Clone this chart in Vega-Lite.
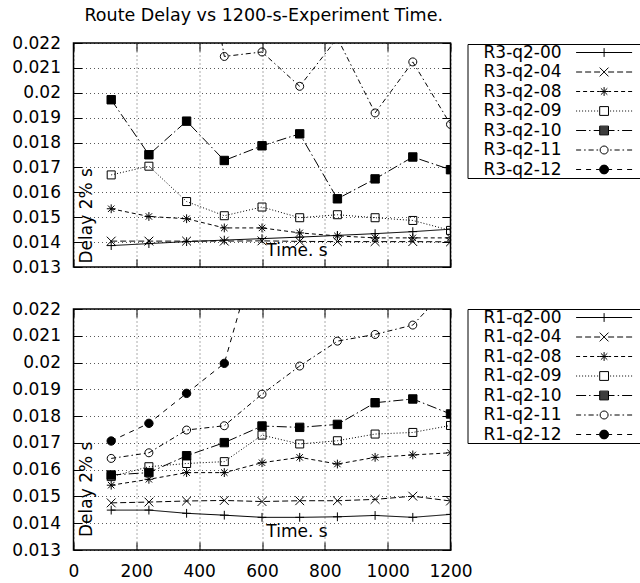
{
  "$schema": "https://vega.github.io/schema/vega-lite/v6.json",
  "background": "white",
  "padding": {"left": 10.5, "top": 5, "right": 0, "bottom": 5},
  "config": {
    "font": "DejaVu Sans",
    "view": {"stroke": "black", "strokeWidth": 1.5},
    "axis": {
      "domain": false,
      "tickSize": -8,
      "tickColor": "black",
      "tickWidth": 1,
      "labelFont": "DejaVu Sans",
      "labelFontSize": 17,
      "labelColor": "black",
      "labelPadding": 21,
      "labelFlush": false,
      "labelOverlap": false,
      "titleFont": "DejaVu Sans",
      "titleFontSize": 17,
      "titleFontWeight": "normal",
      "titleColor": "black",
      "gridColor": "#000000",
      "gridOpacity": 0.65,
      "gridDash": [1, 3],
      "gridWidth": 1
    },
    "legend": {
      "labelFont": "DejaVu Sans",
      "labelFontSize": 17,
      "labelColor": "black",
      "labelLimit": 250
    }
  },
  "datasets": {
    "top": [
      {"series": "R3-q2-00", "t": 120, "delay": 0.01386},
      {"series": "R3-q2-00", "t": 240, "delay": 0.01394},
      {"series": "R3-q2-00", "t": 360, "delay": 0.01402},
      {"series": "R3-q2-00", "t": 480, "delay": 0.01408},
      {"series": "R3-q2-00", "t": 600, "delay": 0.01414},
      {"series": "R3-q2-00", "t": 720, "delay": 0.0142},
      {"series": "R3-q2-00", "t": 840, "delay": 0.01427},
      {"series": "R3-q2-00", "t": 960, "delay": 0.01434},
      {"series": "R3-q2-00", "t": 1080, "delay": 0.01442},
      {"series": "R3-q2-00", "t": 1200, "delay": 0.01452},
      {"series": "R3-q2-04", "t": 120, "delay": 0.01404},
      {"series": "R3-q2-04", "t": 240, "delay": 0.01404},
      {"series": "R3-q2-04", "t": 360, "delay": 0.01404},
      {"series": "R3-q2-04", "t": 480, "delay": 0.01404},
      {"series": "R3-q2-04", "t": 600, "delay": 0.01405},
      {"series": "R3-q2-04", "t": 720, "delay": 0.01403},
      {"series": "R3-q2-04", "t": 840, "delay": 0.01402},
      {"series": "R3-q2-04", "t": 960, "delay": 0.01402},
      {"series": "R3-q2-04", "t": 1080, "delay": 0.01402},
      {"series": "R3-q2-04", "t": 1200, "delay": 0.01401},
      {"series": "R3-q2-08", "t": 120, "delay": 0.01534},
      {"series": "R3-q2-08", "t": 240, "delay": 0.01503},
      {"series": "R3-q2-08", "t": 360, "delay": 0.01494},
      {"series": "R3-q2-08", "t": 480, "delay": 0.01457},
      {"series": "R3-q2-08", "t": 600, "delay": 0.01457},
      {"series": "R3-q2-08", "t": 720, "delay": 0.01437},
      {"series": "R3-q2-08", "t": 840, "delay": 0.01425},
      {"series": "R3-q2-08", "t": 960, "delay": 0.01417},
      {"series": "R3-q2-08", "t": 1080, "delay": 0.01417},
      {"series": "R3-q2-08", "t": 1200, "delay": 0.01417},
      {"series": "R3-q2-09", "t": 120, "delay": 0.0167},
      {"series": "R3-q2-09", "t": 240, "delay": 0.01705},
      {"series": "R3-q2-09", "t": 360, "delay": 0.01563},
      {"series": "R3-q2-09", "t": 480, "delay": 0.01506},
      {"series": "R3-q2-09", "t": 600, "delay": 0.01541},
      {"series": "R3-q2-09", "t": 720, "delay": 0.01498},
      {"series": "R3-q2-09", "t": 840, "delay": 0.0151},
      {"series": "R3-q2-09", "t": 960, "delay": 0.01498},
      {"series": "R3-q2-09", "t": 1080, "delay": 0.01487},
      {"series": "R3-q2-09", "t": 1200, "delay": 0.01447},
      {"series": "R3-q2-10", "t": 120, "delay": 0.01972},
      {"series": "R3-q2-10", "t": 240, "delay": 0.01751},
      {"series": "R3-q2-10", "t": 360, "delay": 0.01886},
      {"series": "R3-q2-10", "t": 480, "delay": 0.01728},
      {"series": "R3-q2-10", "t": 600, "delay": 0.01787},
      {"series": "R3-q2-10", "t": 720, "delay": 0.01835},
      {"series": "R3-q2-10", "t": 840, "delay": 0.01574},
      {"series": "R3-q2-10", "t": 960, "delay": 0.01654},
      {"series": "R3-q2-10", "t": 1080, "delay": 0.01742},
      {"series": "R3-q2-10", "t": 1200, "delay": 0.01691},
      {"series": "R3-q2-11", "t": 360, "delay": 0.03},
      {"series": "R3-q2-11", "t": 480, "delay": 0.02146},
      {"series": "R3-q2-11", "t": 600, "delay": 0.02164},
      {"series": "R3-q2-11", "t": 720, "delay": 0.02026},
      {"series": "R3-q2-11", "t": 840, "delay": 0.0222},
      {"series": "R3-q2-11", "t": 960, "delay": 0.01919},
      {"series": "R3-q2-11", "t": 1080, "delay": 0.02124},
      {"series": "R3-q2-11", "t": 1200, "delay": 0.01873}
    ],
    "bottom": [
      {"series": "R1-q2-00", "t": 120, "delay": 0.01449},
      {"series": "R1-q2-00", "t": 240, "delay": 0.01449},
      {"series": "R1-q2-00", "t": 360, "delay": 0.01437},
      {"series": "R1-q2-00", "t": 480, "delay": 0.0143},
      {"series": "R1-q2-00", "t": 600, "delay": 0.01422},
      {"series": "R1-q2-00", "t": 720, "delay": 0.01422},
      {"series": "R1-q2-00", "t": 840, "delay": 0.01424},
      {"series": "R1-q2-00", "t": 960, "delay": 0.01429},
      {"series": "R1-q2-00", "t": 1080, "delay": 0.01422},
      {"series": "R1-q2-00", "t": 1200, "delay": 0.01433},
      {"series": "R1-q2-04", "t": 120, "delay": 0.01476},
      {"series": "R1-q2-04", "t": 240, "delay": 0.01479},
      {"series": "R1-q2-04", "t": 360, "delay": 0.01483},
      {"series": "R1-q2-04", "t": 480, "delay": 0.01485},
      {"series": "R1-q2-04", "t": 600, "delay": 0.01481},
      {"series": "R1-q2-04", "t": 720, "delay": 0.01484},
      {"series": "R1-q2-04", "t": 840, "delay": 0.01484},
      {"series": "R1-q2-04", "t": 960, "delay": 0.01489},
      {"series": "R1-q2-04", "t": 1080, "delay": 0.01501},
      {"series": "R1-q2-04", "t": 1200, "delay": 0.01483},
      {"series": "R1-q2-08", "t": 120, "delay": 0.01542},
      {"series": "R1-q2-08", "t": 240, "delay": 0.01564},
      {"series": "R1-q2-08", "t": 360, "delay": 0.01589},
      {"series": "R1-q2-08", "t": 480, "delay": 0.01589},
      {"series": "R1-q2-08", "t": 600, "delay": 0.01626},
      {"series": "R1-q2-08", "t": 720, "delay": 0.01646},
      {"series": "R1-q2-08", "t": 840, "delay": 0.01621},
      {"series": "R1-q2-08", "t": 960, "delay": 0.01646},
      {"series": "R1-q2-08", "t": 1080, "delay": 0.01655},
      {"series": "R1-q2-08", "t": 1200, "delay": 0.01663},
      {"series": "R1-q2-09", "t": 120, "delay": 0.01574},
      {"series": "R1-q2-09", "t": 240, "delay": 0.01611},
      {"series": "R1-q2-09", "t": 360, "delay": 0.01623},
      {"series": "R1-q2-09", "t": 480, "delay": 0.0163},
      {"series": "R1-q2-09", "t": 600, "delay": 0.01729},
      {"series": "R1-q2-09", "t": 720, "delay": 0.01696},
      {"series": "R1-q2-09", "t": 840, "delay": 0.01708},
      {"series": "R1-q2-09", "t": 960, "delay": 0.01733},
      {"series": "R1-q2-09", "t": 1080, "delay": 0.01739},
      {"series": "R1-q2-09", "t": 1200, "delay": 0.01765},
      {"series": "R1-q2-10", "t": 120, "delay": 0.0158},
      {"series": "R1-q2-10", "t": 240, "delay": 0.01589},
      {"series": "R1-q2-10", "t": 360, "delay": 0.01652},
      {"series": "R1-q2-10", "t": 480, "delay": 0.01701},
      {"series": "R1-q2-10", "t": 600, "delay": 0.01763},
      {"series": "R1-q2-10", "t": 720, "delay": 0.01758},
      {"series": "R1-q2-10", "t": 840, "delay": 0.01769},
      {"series": "R1-q2-10", "t": 960, "delay": 0.0185},
      {"series": "R1-q2-10", "t": 1080, "delay": 0.01864},
      {"series": "R1-q2-10", "t": 1200, "delay": 0.01808},
      {"series": "R1-q2-11", "t": 120, "delay": 0.01642},
      {"series": "R1-q2-11", "t": 240, "delay": 0.01663},
      {"series": "R1-q2-11", "t": 360, "delay": 0.01748},
      {"series": "R1-q2-11", "t": 480, "delay": 0.01764},
      {"series": "R1-q2-11", "t": 600, "delay": 0.01882},
      {"series": "R1-q2-11", "t": 720, "delay": 0.01987},
      {"series": "R1-q2-11", "t": 840, "delay": 0.0208},
      {"series": "R1-q2-11", "t": 960, "delay": 0.02105},
      {"series": "R1-q2-11", "t": 1080, "delay": 0.0214},
      {"series": "R1-q2-11", "t": 1200, "delay": 0.0229},
      {"series": "R1-q2-12", "t": 120, "delay": 0.01707},
      {"series": "R1-q2-12", "t": 240, "delay": 0.01773},
      {"series": "R1-q2-12", "t": 360, "delay": 0.01885},
      {"series": "R1-q2-12", "t": 480, "delay": 0.01997},
      {"series": "R1-q2-12", "t": 600, "delay": 0.0249}
    ]
  },
  "spacing": 23,
  "resolve": {
    "scale": {"shape": "independent", "strokeDash": "independent", "fill": "independent"},
    "legend": {"shape": "independent"}
  },
  "vconcat": [
    {
      "data": {"name": "top"},
      "width": 377,
      "height": 224,
      "title": {"text": "Route Delay vs 1200-s-Experiment Time.", "anchor": "start", "frame": "group", "dx": 11, "offset": -4, "baseline": "alphabetic", "font": "DejaVu Sans", "fontSize": 17.5, "fontWeight": "normal", "color": "black"},
      "resolve": {"axis": {"x": "independent", "y": "independent"}, "scale": {"shape": "independent"}},
      "layer": [
        {
          "mark": {"type": "line", "clip": true, "color": "black", "strokeWidth": 1},
          "encoding": {
            "x": {"field": "t", "type": "quantitative", "scale": {"domain": [0, 1200], "nice": false},
              "axis": {"values": [0, 200, 400, 600, 800, 1000, 1200], "labels": false, "title": "Time. s", "titleX": 223, "titleY": -12, "titleAlign": "center", "titleBaseline": "alphabetic", "titleAngle": 0}},
            "y": {"field": "delay", "type": "quantitative", "scale": {"domain": [0.013, 0.022], "nice": false, "zero": false},
              "axis": {"values": [0.013, 0.014, 0.015, 0.016, 0.017, 0.018, 0.019, 0.02, 0.021, 0.022], "format": ".3~f", "title": "Delay 2% s", "titleX": 17.5, "titleY": 220, "titleAlign": "left", "titleAngle": 270, "titleBaseline": "alphabetic"}},
            "strokeDash": {"field": "series", "type": "nominal",
              "scale": {"domain": ["R3-q2-00", "R3-q2-04", "R3-q2-08", "R3-q2-09", "R3-q2-10", "R3-q2-11", "R3-q2-12"],
                "range": [[1, 0], [6, 3], [4, 3], [1, 2], [10, 3, 1.5, 3], [5, 3, 1.5, 3], [5, 5]]},
              "legend": null}
          }
        },
        {
          "mark": {"type": "point", "clip": true, "size": 64, "stroke": "black", "strokeWidth": 1, "opacity": 1},
          "encoding": {
            "x": {"field": "t", "type": "quantitative", "scale": {"domain": [0, 1200], "nice": false},
              "axis": {"orient": "top", "values": [0, 200, 400, 600, 800, 1000, 1200], "labels": false, "grid": false, "title": null}},
            "y": {"field": "delay", "type": "quantitative", "scale": {"domain": [0.013, 0.022], "nice": false, "zero": false},
              "axis": {"orient": "right", "values": [0.013, 0.014, 0.015, 0.016, 0.017, 0.018, 0.019, 0.02, 0.021, 0.022], "labels": false, "grid": false, "title": null}},
            "fill": {"field": "series", "type": "nominal",
              "scale": {"domain": ["R3-q2-00", "R3-q2-04", "R3-q2-08", "R3-q2-09", "R3-q2-10", "R3-q2-11", "R3-q2-12"],
                "range": ["transparent", "transparent", "transparent", "transparent", "black", "transparent", "black"]},
              "legend": null},
            "shape": {"field": "series", "type": "nominal",
              "scale": {"domain": ["R3-q2-00", "R3-q2-04", "R3-q2-08", "R3-q2-09", "R3-q2-10", "R3-q2-11", "R3-q2-12"],
                "range": ["M-1.1,0H1.1M0,-1.1V1.1", "M-1.1,-1.1L1.1,1.1M-1.1,1.1L1.1,-1.1", "M-1.1,0H1.1M0,-1.1V1.1M-0.8,-0.8L0.8,0.8M-0.8,0.8L0.8,-0.8", "M-1,-1H1V1H-1Z", "M-1.05,-1.05H1.05V1.05H-1.05Z", "M-1,0A1,1 0 1,0 1,0A1,1 0 1,0 -1,0Z", "M-1.05,0A1.05,1.05 0 1,0 1.05,0A1.05,1.05 0 1,0 -1.05,0Z"]},
              "legend": null}
          }
        },
        {
          "mark": {"type": "point", "clip": true, "size": 64, "color": "black", "strokeWidth": 1, "opacity": 0},
          "encoding": {
            "x": {"field": "t", "type": "quantitative", "scale": {"domain": [0, 1200], "nice": false}, "axis": null},
            "y": {"field": "delay", "type": "quantitative", "scale": {"domain": [0.013, 0.022], "nice": false, "zero": false}, "axis": null},
            "shape": {"field": "series", "type": "nominal",
              "scale": {"domain": ["R3-q2-00", "R3-q2-04", "R3-q2-08", "R3-q2-09", "R3-q2-10", "R3-q2-11", "R3-q2-12"],
                "range": [
                  "M-7,0H7M0,-1.1V1.1M12,0L12,0",
                  "M-7,0H-5.5M-4.75,0H-3.25M-2.5,0H-1M1,0H2.5M3.25,0H4.75M5.5,0H7M-1.1,-1.1L1.1,1.1M-1.1,1.1L1.1,-1.1M12,0L12,0",
                  "M-7,0H-6M-5.25,0H-4.25M-3.5,0H-2.5M-1.75,0H-1.1M1.1,0H1.75M2.5,0H3.5M4.25,0H5.25M6,0H7M-1.1,0H1.1M0,-1.1V1.1M-0.8,-0.8L0.8,0.8M-0.8,0.8L0.8,-0.8M12,0L12,0",
                  "M-7,0h0.25M-6.25,0h0.25M-5.5,0h0.25M-4.75,0h0.25M-4,0h0.25M-3.25,0h0.25M-2.5,0h0.25M-1.75,0h0.25M1.5,0h0.25M2.25,0h0.25M3,0h0.25M3.75,0h0.25M4.5,0h0.25M5.25,0h0.25M6,0h0.25M6.75,0h0.25M-1.1,-1.1H1.1V1.1H-1.1ZM12,0L12,0",
                  "M-7,0H-4.5M-3.75,0H-3.4M-2.6,0H-1.1M1.1,0H2.6M3.4,0H3.75M4.5,0H7M-1.1,-1.1H1.1V1.1H-1.1ZM-1.1,-0.85H1.1M-1.1,-0.6H1.1M-1.1,-0.35H1.1M-1.1,-0.1H1.1M-1.1,0.15H1.1M-1.1,0.4H1.1M-1.1,0.65H1.1M-1.1,0.9H1.1M12,0L12,0",
                  "M-7,0H-5.75M-5,0H-4.6M-3.9,0H-2.6M-1.9,0H-1.5M1.5,0H1.9M2.6,0H3.9M4.6,0H5M5.75,0H7M-1,0A1,1 0 1,0 1,0A1,1 0 1,0 -1,0ZM12,0L12,0",
                  "M-7,0H-5.75M-4.5,0H-3.25M-2,0H-1.1M1.1,0H2M3.25,0H4.5M5.75,0H7M-1.1,0A1.1,1.1 0 1,0 1.1,0A1.1,1.1 0 1,0 -1.1,0ZM-0.46,-1H0.46M-0.66,-0.875H0.66M-0.8,-0.75H0.8M-0.9,-0.625H0.9M-0.98,-0.5H0.98M-1.03,-0.375H1.03M-1.07,-0.25H1.07M-1.09,-0.125H1.09M-1.1,0H1.1M-1.09,0.125H1.09M-1.07,0.25H1.07M-1.03,0.375H1.03M-0.98,0.5H0.98M-0.9,0.625H0.9M-0.8,0.75H0.8M-0.66,0.875H0.66M-0.46,1H0.46M12,0L12,0"
                ]},
              "legend": {
                "title": null, "orient": "none", "legendX": 394, "legendY": 1, "padding": 0, "strokeColor": "black", "rowPadding": 1.5,
                "symbolOffset": 128.1, "labelOffset": -129.1, "symbolSize": 64, "symbolStrokeWidth": 1,
                "symbolStrokeColor": "black", "symbolFillColor": "transparent", "symbolOpacity": 1
              }}
          }
        }
      ]
    },
    {
      "data": {"name": "bottom"},
      "width": 377,
      "height": 241,
      "resolve": {"axis": {"x": "independent", "y": "independent"}, "scale": {"shape": "independent"}},
      "layer": [
        {
          "mark": {"type": "line", "clip": true, "color": "black", "strokeWidth": 1},
          "encoding": {
            "x": {"field": "t", "type": "quantitative", "scale": {"domain": [0, 1200], "nice": false},
              "axis": {"values": [0, 200, 400, 600, 800, 1000, 1200], "format": "d", "title": "Time. s", "titleX": 223, "titleY": -14, "titleAlign": "center", "titleBaseline": "alphabetic", "titleAngle": 0}},
            "y": {"field": "delay", "type": "quantitative", "scale": {"domain": [0.013, 0.022], "nice": false, "zero": false},
              "axis": {"values": [0.013, 0.014, 0.015, 0.016, 0.017, 0.018, 0.019, 0.02, 0.021, 0.022], "format": ".3~f", "title": "Delay 2% s", "titleX": 17.5, "titleY": 227.5, "titleAlign": "left", "titleAngle": 270, "titleBaseline": "alphabetic"}},
            "strokeDash": {"field": "series", "type": "nominal",
              "scale": {"domain": ["R1-q2-00", "R1-q2-04", "R1-q2-08", "R1-q2-09", "R1-q2-10", "R1-q2-11", "R1-q2-12"],
                "range": [[1, 0], [6, 3], [4, 3], [1, 2], [10, 3, 1.5, 3], [5, 3, 1.5, 3], [5, 5]]},
              "legend": null}
          }
        },
        {
          "mark": {"type": "point", "clip": true, "size": 64, "stroke": "black", "strokeWidth": 1, "opacity": 1},
          "encoding": {
            "x": {"field": "t", "type": "quantitative", "scale": {"domain": [0, 1200], "nice": false},
              "axis": {"orient": "top", "values": [0, 200, 400, 600, 800, 1000, 1200], "labels": false, "grid": false, "title": null}},
            "y": {"field": "delay", "type": "quantitative", "scale": {"domain": [0.013, 0.022], "nice": false, "zero": false},
              "axis": {"orient": "right", "values": [0.013, 0.014, 0.015, 0.016, 0.017, 0.018, 0.019, 0.02, 0.021, 0.022], "labels": false, "grid": false, "title": null}},
            "fill": {"field": "series", "type": "nominal",
              "scale": {"domain": ["R1-q2-00", "R1-q2-04", "R1-q2-08", "R1-q2-09", "R1-q2-10", "R1-q2-11", "R1-q2-12"],
                "range": ["transparent", "transparent", "transparent", "transparent", "black", "transparent", "black"]},
              "legend": null},
            "shape": {"field": "series", "type": "nominal",
              "scale": {"domain": ["R1-q2-00", "R1-q2-04", "R1-q2-08", "R1-q2-09", "R1-q2-10", "R1-q2-11", "R1-q2-12"],
                "range": ["M-1.1,0H1.1M0,-1.1V1.1", "M-1.1,-1.1L1.1,1.1M-1.1,1.1L1.1,-1.1", "M-1.1,0H1.1M0,-1.1V1.1M-0.8,-0.8L0.8,0.8M-0.8,0.8L0.8,-0.8", "M-1,-1H1V1H-1Z", "M-1.05,-1.05H1.05V1.05H-1.05Z", "M-1,0A1,1 0 1,0 1,0A1,1 0 1,0 -1,0Z", "M-1.05,0A1.05,1.05 0 1,0 1.05,0A1.05,1.05 0 1,0 -1.05,0Z"]},
              "legend": null}
          }
        },
        {
          "mark": {"type": "point", "clip": true, "size": 64, "color": "black", "strokeWidth": 1, "opacity": 0},
          "encoding": {
            "x": {"field": "t", "type": "quantitative", "scale": {"domain": [0, 1200], "nice": false}, "axis": null},
            "y": {"field": "delay", "type": "quantitative", "scale": {"domain": [0.013, 0.022], "nice": false, "zero": false}, "axis": null},
            "shape": {"field": "series", "type": "nominal",
              "scale": {"domain": ["R1-q2-00", "R1-q2-04", "R1-q2-08", "R1-q2-09", "R1-q2-10", "R1-q2-11", "R1-q2-12"],
                "range": [
                  "M-7,0H7M0,-1.1V1.1M12,0L12,0",
                  "M-7,0H-5.5M-4.75,0H-3.25M-2.5,0H-1M1,0H2.5M3.25,0H4.75M5.5,0H7M-1.1,-1.1L1.1,1.1M-1.1,1.1L1.1,-1.1M12,0L12,0",
                  "M-7,0H-6M-5.25,0H-4.25M-3.5,0H-2.5M-1.75,0H-1.1M1.1,0H1.75M2.5,0H3.5M4.25,0H5.25M6,0H7M-1.1,0H1.1M0,-1.1V1.1M-0.8,-0.8L0.8,0.8M-0.8,0.8L0.8,-0.8M12,0L12,0",
                  "M-7,0h0.25M-6.25,0h0.25M-5.5,0h0.25M-4.75,0h0.25M-4,0h0.25M-3.25,0h0.25M-2.5,0h0.25M-1.75,0h0.25M1.5,0h0.25M2.25,0h0.25M3,0h0.25M3.75,0h0.25M4.5,0h0.25M5.25,0h0.25M6,0h0.25M6.75,0h0.25M-1.1,-1.1H1.1V1.1H-1.1ZM12,0L12,0",
                  "M-7,0H-4.5M-3.75,0H-3.4M-2.6,0H-1.1M1.1,0H2.6M3.4,0H3.75M4.5,0H7M-1.1,-1.1H1.1V1.1H-1.1ZM-1.1,-0.85H1.1M-1.1,-0.6H1.1M-1.1,-0.35H1.1M-1.1,-0.1H1.1M-1.1,0.15H1.1M-1.1,0.4H1.1M-1.1,0.65H1.1M-1.1,0.9H1.1M12,0L12,0",
                  "M-7,0H-5.75M-5,0H-4.6M-3.9,0H-2.6M-1.9,0H-1.5M1.5,0H1.9M2.6,0H3.9M4.6,0H5M5.75,0H7M-1,0A1,1 0 1,0 1,0A1,1 0 1,0 -1,0ZM12,0L12,0",
                  "M-7,0H-5.75M-4.5,0H-3.25M-2,0H-1.1M1.1,0H2M3.25,0H4.5M5.75,0H7M-1.1,0A1.1,1.1 0 1,0 1.1,0A1.1,1.1 0 1,0 -1.1,0ZM-0.46,-1H0.46M-0.66,-0.875H0.66M-0.8,-0.75H0.8M-0.9,-0.625H0.9M-0.98,-0.5H0.98M-1.03,-0.375H1.03M-1.07,-0.25H1.07M-1.09,-0.125H1.09M-1.1,0H1.1M-1.09,0.125H1.09M-1.07,0.25H1.07M-1.03,0.375H1.03M-0.98,0.5H0.98M-0.9,0.625H0.9M-0.8,0.75H0.8M-0.66,0.875H0.66M-0.46,1H0.46M12,0L12,0"
                ]},
              "legend": {
                "title": null, "orient": "none", "legendX": 394, "legendY": 0, "padding": 0, "strokeColor": "black", "rowPadding": 1.5,
                "symbolOffset": 128.1, "labelOffset": -129.1, "symbolSize": 64, "symbolStrokeWidth": 1,
                "symbolStrokeColor": "black", "symbolFillColor": "transparent", "symbolOpacity": 1
              }}
          }
        }
      ]
    }
  ]
}
